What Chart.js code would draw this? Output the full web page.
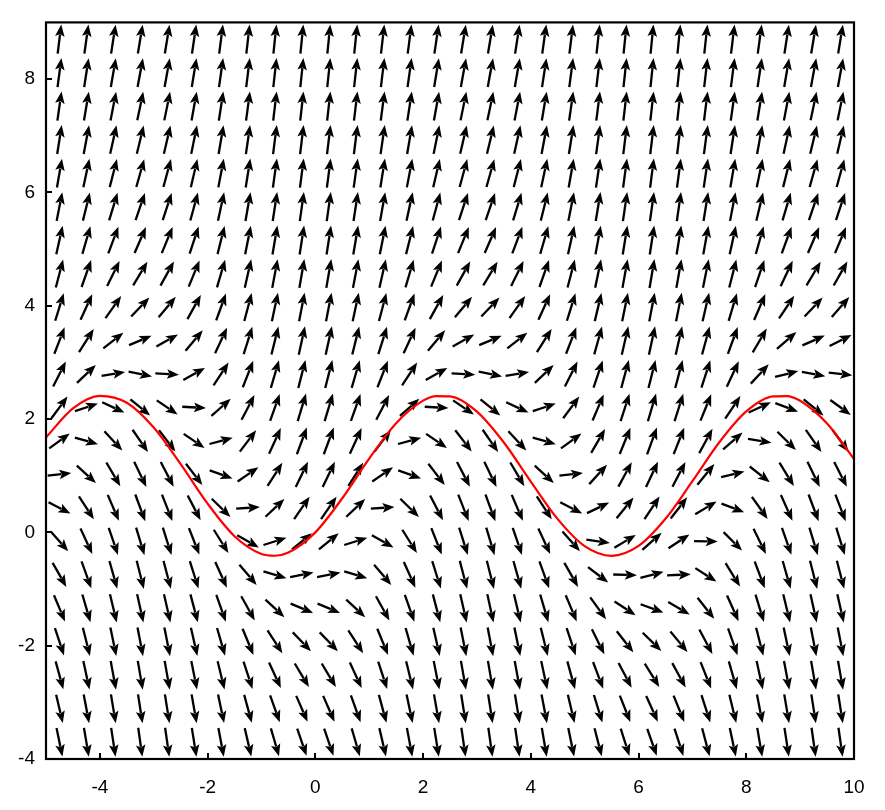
<!DOCTYPE html>
<html>
<head>
<meta charset="utf-8">
<script src="https://cdn.jsdelivr.net/npm/chart.js"></script>
<style>
  html, body { margin: 0; padding: 0; background: #fff; }
  #wrap { width: 885px; height: 810px; }
</style>
</head>
<body>
<div id="wrap"><canvas id="field" width="885" height="810"></canvas></div>
<script>
// --- data ---
// arrow grid columns / rows
const xCols = [-4.75, -4.25, -3.75, -3.25, -2.75, -2.25, -1.75, -1.25, -0.75, -0.25,
               0.25, 0.75, 1.25, 1.75, 2.25, 2.75, 3.25, 3.75, 4.25, 4.75,
               5.25, 5.75, 6.25, 6.75, 7.25, 7.75, 8.25, 8.75, 9.25, 9.75];
const yRows = [-3.705, -3.114, -2.523, -1.932, -1.341, -0.750, -0.159, 0.432, 1.023, 1.614,
               2.205, 2.795, 3.386, 3.977, 4.568, 5.159, 5.750, 6.341, 6.932, 7.523,
               8.114, 8.705];
// height in each column where the arrows lie flat (slope = y - level)
const flatLevel = [0.92, 1.89, 2.64, 2.99, 2.85, 2.26, 1.36, 0.37, -0.46, -0.94,
                   -0.94, -0.46, 0.37, 1.36, 2.26, 2.85, 2.99, 2.64, 1.89, 0.92,
                   -0.02, -0.72, -1.00, -0.79, -0.14, 0.79, 1.77, 2.56, 2.97, 2.90];

// red solution curve
const curveX = [-5, -4.5, -4, -3.5, -3, -2.5, -2, -1.5, -1, -0.75, -0.5, 0, 0.5, 1, 1.5, 2, 2.25, 2.5,
                3, 3.5, 4, 4.5, 5, 5.5, 6, 6.5, 7, 7.5, 8, 8.5, 8.75, 9, 9.5, 10];
const curveY = [1.675, 2.188, 2.410, 2.287, 1.849, 1.203, 0.507, -0.068, -0.382, -0.413, -0.357, 0, 0.602, 1.301, 1.927, 2.325, 2.406, 2.400,
                2.131, 1.586, 0.897, 0.233, -0.243, -0.414, -0.240, 0.239, 0.903, 1.591, 2.135, 2.401, 2.406, 2.323, 1.922, 1.295];

const xTicks = [-4, -2, 0, 2, 4, 6, 8, 10];
const yTicks = [-4, -2, 0, 2, 4, 6, 8];

// --- build datasets ---
const arrowPoints = [];
xCols.forEach((x, i) => {
    yRows.forEach(y => {
        arrowPoints.push({ x: x, y: y, s: y - flatLevel[i] });
    });
});
const curvePoints = curveX.map((x, i) => ({ x: x, y: curveY[i] }));

const tickFont = { family: 'Liberation Sans', size: 19 };

// draws the arrows at the point positions of the arrow dataset
const arrowPlugin = {
    id: 'arrows',
    beforeDatasetsDraw(chart) {
        const meta = chart.getDatasetMeta(1);
        const xs = chart.scales.x, ys = chart.scales.y;
        const cellW = Math.abs(xs.getPixelForValue(0.5) - xs.getPixelForValue(0));
        const cellH = Math.abs(ys.getPixelForValue(0) - ys.getPixelForValue(13 / 22));
        const k = 0.88;
        const ctx = chart.ctx;
        ctx.save();
        ctx.strokeStyle = '#000';
        ctx.fillStyle = '#000';
        ctx.lineWidth = 2.3;
        meta.data.forEach((pt, idx) => {
            const s = arrowPoints[idx].s;
            const a = 1 / 0.5, b = s / (13 / 22);
            const n = Math.sqrt(a * a + b * b);
            const px = k * cellW * a / n;
            const py = -k * cellH * b / n;
            const x0 = pt.x - px / 2, y0 = pt.y - py / 2;
            const x1 = pt.x + px / 2, y1 = pt.y + py / 2;
            const len = Math.sqrt(px * px + py * py);
            const ux = px / len, uy = py / len;
            const hl = 12, hw = 4.8;
            const bx = x1 - ux * hl, by = y1 - uy * hl;
            ctx.beginPath();
            ctx.moveTo(x0, y0);
            ctx.lineTo(bx + ux * 2, by + uy * 2);
            ctx.stroke();
            ctx.beginPath();
            ctx.moveTo(x1, y1);
            ctx.lineTo(bx - uy * hw, by + ux * hw);
            ctx.lineTo(bx + ux * 2.5, by + uy * 2.5);
            ctx.lineTo(bx + uy * hw, by - ux * hw);
            ctx.closePath();
            ctx.fill();
        });
        ctx.restore();
    },
    afterDraw(chart) {
        const { ctx, chartArea: ca } = chart;
        const xs = chart.scales.x, ys = chart.scales.y;
        ctx.save();
        ctx.strokeStyle = '#000';
        ctx.lineWidth = 2;
        xTicks.forEach(v => {
            const p = Math.round(xs.getPixelForValue(v));
            ctx.beginPath();
            ctx.moveTo(p, ca.bottom);
            ctx.lineTo(p, ca.bottom - 6);
            ctx.stroke();
        });
        yTicks.forEach(v => {
            const p = Math.round(ys.getPixelForValue(v));
            ctx.beginPath();
            ctx.moveTo(ca.left, p);
            ctx.lineTo(ca.left + 6, p);
            ctx.stroke();
        });
        ctx.lineWidth = 2.2;
        ctx.strokeRect(ca.left, ca.top, ca.right - ca.left, ca.bottom - ca.top);
        ctx.restore();
    }
};

new Chart(document.getElementById('field'), {
    type: 'scatter',
    data: {
        datasets: [
            {
                type: 'line',
                label: 'solution',
                data: curvePoints,
                borderColor: '#ff0000',
                borderWidth: 2.2,
                pointRadius: 0,
                fill: false,
                tension: 0.4,
                cubicInterpolationMode: 'monotone'
            },
            {
                label: 'slopes',
                data: arrowPoints,
                pointRadius: 0,
                pointHoverRadius: 0
            }
        ]
    },
    options: {
        responsive: false,
        animation: false,
        events: [],
        layout: { padding: { top: 11, right: 31, left: 0, bottom: 0 } },
        plugins: { legend: { display: false }, tooltip: { enabled: false } },
        scales: {
            x: {
                type: 'linear',
                min: -5,
                max: 10,
                afterBuildTicks: s => { s.ticks = xTicks.map(v => ({ value: v })); },
                afterFit: s => { s.height = 51; },
                grid: { display: false, drawTicks: false },
                border: { display: false },
                ticks: { color: '#000', font: tickFont, padding: 17, maxRotation: 0 }
            },
            y: {
                type: 'linear',
                min: -4,
                max: 9,
                afterBuildTicks: s => { s.ticks = yTicks.map(v => ({ value: v })); },
                afterFit: s => { s.width = 46; },
                grid: { display: false, drawTicks: false },
                border: { display: false },
                ticks: { color: '#000', font: tickFont, padding: 11 }
            }
        }
    },
    plugins: [arrowPlugin]
});
</script>
</body>
</html>
